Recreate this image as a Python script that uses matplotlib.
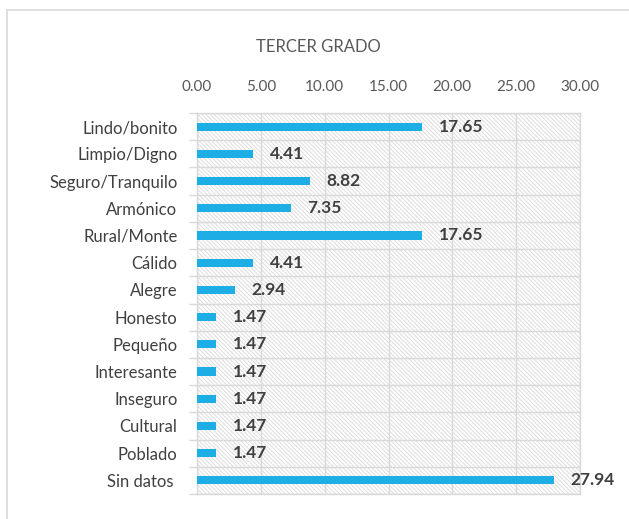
import matplotlib
matplotlib.use("Agg")
import matplotlib.pyplot as plt
from matplotlib.patches import Rectangle
from matplotlib.ticker import MultipleLocator, FixedLocator

categories = ["Lindo/bonito", "Limpio/Digno", "Seguro/Tranquilo", "Armónico",
              "Rural/Monte", "Cálido", "Alegre", "Honesto", "Pequeño",
              "Interesante", "Inseguro", "Cultural", "Poblado", "Sin datos "]
values = [17.65, 4.41, 8.82, 7.35, 17.65, 4.41, 2.94,
          1.47, 1.47, 1.47, 1.47, 1.47, 1.47, 27.94]
xticks = [0, 5, 10, 15, 20, 25, 30]

plt.rcParams['font.family'] = ['Lato', 'DejaVu Sans']
plt.rcParams['hatch.linewidth'] = 0.7

fig = plt.figure(figsize=(6.29, 5.19), dpi=100)
ax = fig.add_axes([197 / 629, 25 / 519, 383 / 629, 381 / 519])

# outer chart border
fig.patches.append(Rectangle((7 / 629, -0.1), 1.2, 1 - 10 / 519 + 0.1,
                             transform=fig.transFigure, fill=False,
                             edgecolor='#d9d9d9', linewidth=1.2))

grid_col = '#d9d9d9'
ax.patch.set_facecolor('white')
ax.patch.set_hatch('\\' * 8)
ax.patch.set_edgecolor('#dcdcdc')
ax.patch.set_linewidth(0)

pos = list(range(len(categories)))
ax.barh(pos, values, height=0.3, color='#1eaee6', zorder=3)

for p, v in zip(pos, values):
    ax.annotate(f"{v:.2f}", (v, p), xytext=(12, 0), textcoords='offset points',
                va='center', ha='left', fontsize=12.5, fontweight='bold',
                color='#404040', annotation_clip=False)

ax.set_xlim(0, 30)
ax.set_ylim(len(categories) - 0.5, -0.5)
ax.xaxis.set_major_locator(FixedLocator(xticks))
ax.set_xticklabels([f"{t:.2f}" for t in xticks])
ax.xaxis.tick_top()
ax.tick_params(axis='x', length=0, pad=14, labelsize=11, labelcolor='#595959')

ax.set_yticks(pos)
ax.set_yticklabels(categories)
ax.yaxis.set_minor_locator(MultipleLocator(1, offset=0.5))
ax.tick_params(axis='y', which='major', length=0, pad=14, labelsize=12,
               labelcolor='#404040')
ax.tick_params(axis='y', which='minor', length=6, color=grid_col, width=1)

ax.grid(axis='x', which='major', color=grid_col, linewidth=1, zorder=1)
ax.grid(axis='y', which='minor', color=grid_col, linewidth=1, zorder=1)
ax.set_axisbelow(True)
for s in ax.spines.values():
    s.set_color(grid_col)
    s.set_linewidth(1)

fig.text(318 / 629, 1 - 47 / 519, "TERCER GRADO", ha='center', va='center',
         fontsize=12, color='#595959')

fig.savefig("out.png", dpi=100)
